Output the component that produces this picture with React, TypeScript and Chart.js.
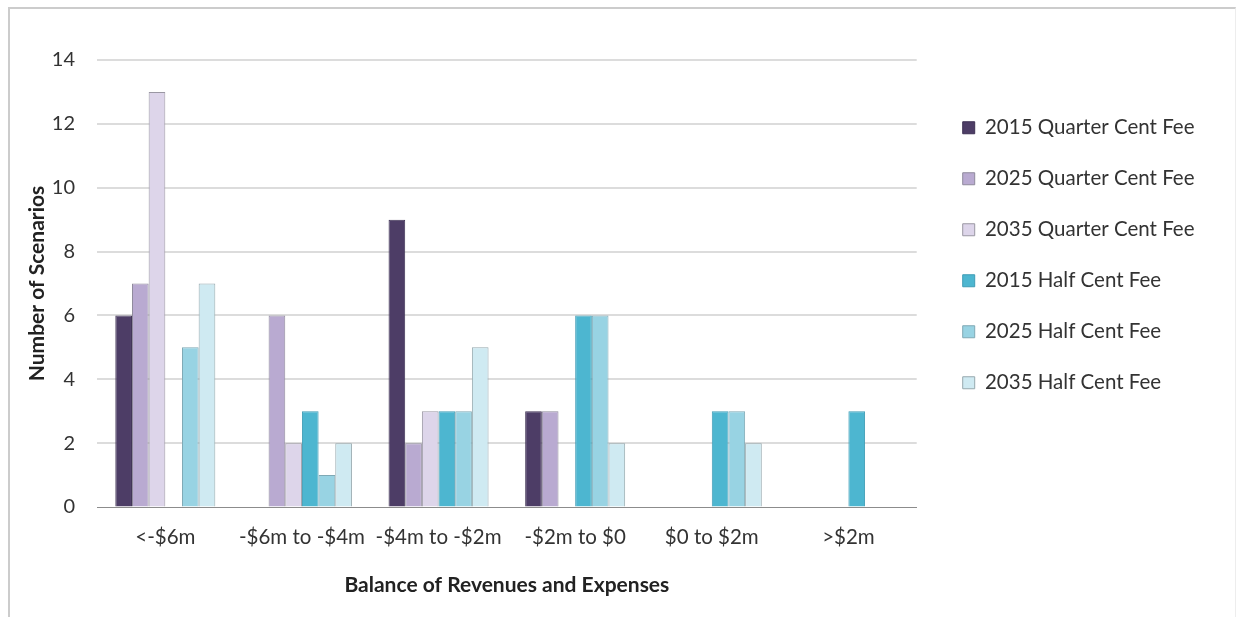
import React, { useEffect, useRef } from "react";
import { Chart, registerables } from "chart.js";

Chart.register(...registerables);

const categories = ["<-$6m", "-$6m to -$4m", "-$4m to -$2m", "-$2m to $0", "$0 to $2m", ">$2m"];
const seriesNames = [
  "2015 Quarter Cent Fee",
  "2025 Quarter Cent Fee",
  "2035 Quarter Cent Fee",
  "2015 Half Cent Fee",
  "2025 Half Cent Fee",
  "2035 Half Cent Fee",
];
const quarter2015 = [6, 0, 9, 3, 0, 0];
const quarter2025 = [7, 6, 2, 3, 0, 0];
const quarter2035 = [13, 2, 3, 0, 0, 0];
const half2015 = [0, 3, 3, 6, 3, 3];
const half2025 = [5, 1, 3, 6, 3, 0];
const half2035 = [7, 2, 5, 2, 2, 0];
const seriesValues = [quarter2015, quarter2025, quarter2035, half2015, half2025, half2035];

const fillColors = ["#4d3d66", "#b9aad1", "#ddd5ea", "#4db6d0", "#98d3e3", "#cfeaf2"];
const edgeColors = ["#3e3154", "#8f8a9c", "#9a97a3", "#3f9cb5", "#7fa9b5", "#96a9ae"];

const yAxisTitle = "Number of Scenarios";
const xAxisTitle = "Balance of Revenues and Expenses";
const yMin = 0;
const yMax = 14;
const yStep = 2;

const FONT = "Lato, 'Open Sans', sans-serif";

export default function App() {
  const canvasRef = useRef<HTMLCanvasElement | null>(null);

  useEffect(() => {
    const canvas = canvasRef.current;
    if (!canvas) return;

    const legendShift = {
      id: "legendShift",
      afterLayout(chart: any) {
        const lg = chart.legend;
        if (!lg) return;
        const pad = lg.options.labels.padding;
        const targetLeft = chart.chartArea.right + 46 - pad;
        const dx = targetLeft - lg.left;
        lg.left += dx;
        lg.right += dx;
        const dy = 87 - lg.top;
        lg.top += dy;
        lg.bottom += dy;
      },
    };

    const chart = new Chart(canvas, {
      type: "bar",
      data: {
        labels: categories,
        datasets: seriesValues.map((vals, i) => ({
          label: seriesNames[i],
          data: vals,
          backgroundColor: fillColors[i],
          borderColor: edgeColors[i],
          borderWidth: 1,
          borderSkipped: "bottom",
          categoryPercentage: 0.732,
          barPercentage: 1,
        })),
      },
      options: {
        animation: false,
        responsive: false,
        maintainAspectRatio: false,
        layout: { padding: { top: 60, left: 10, bottom: 0, right: 50 } },
        plugins: {
          legend: {
            position: "right",
            align: "start",
            labels: {
              boxWidth: 12,
              boxHeight: 12,
              padding: 30.5,
              color: "#333333",
              font: { family: FONT, size: 20.5 },
            },
          },
          tooltip: { enabled: false },
        },
        scales: {
          x: {
            grid: { display: false, drawTicks: false },
            border: { display: true, color: "#8c8c8c", width: 1 },
            ticks: {
              padding: 18,
              color: "#333333",
              font: { family: FONT, size: 20.5 },
              maxRotation: 0,
              autoSkip: false,
            },
            title: {
              display: true,
              text: xAxisTitle,
              color: "#222222",
              font: { family: FONT, size: 21, weight: "bold" },
              padding: { top: 0, bottom: 19.4 },
            },
            afterFit(scale: any) {
              scale.height = 110;
            },
          },
          y: {
            min: yMin,
            max: yMax,
            grid: {
              drawTicks: false,
              color: (ctx: any) => (ctx.tick && ctx.tick.value === 0 ? "#8c8c8c" : "#dcdcdc"),
              lineWidth: (ctx: any) => (ctx.tick && ctx.tick.value === 0 ? 1 : 2),
            },
            border: { display: false },
            ticks: {
              stepSize: yStep,
              padding: 22,
              color: "#333333",
              font: { family: FONT, size: 20 },
            },
            title: {
              display: true,
              text: yAxisTitle,
              color: "#222222",
              font: { family: FONT, size: 21, weight: "bold" },
              padding: { top: 14.4, bottom: 0 },
            },
            afterFit(scale: any) {
              scale.width = 87;
            },
          },
        },
      },
      plugins: [legendShift],
    });

    return () => {
      chart.destroy();
    };
  }, []);

  return (
    <div>
      <div
        style={{
          position: "fixed",
          left: 8,
          top: 7,
          width: 1228,
          height: 640,
          boxSizing: "border-box",
          borderTop: "2px solid #cccccc",
          borderLeft: "2px solid #cccccc",
          borderRight: "1px solid #ededed",
          background: "#ffffff",
        }}
      />
      <canvas
        ref={canvasRef}
        width={1239}
        height={617}
        style={{ position: "fixed", left: 0, top: 0, width: 1239, height: 617 }}
      />
    </div>
  );
}
